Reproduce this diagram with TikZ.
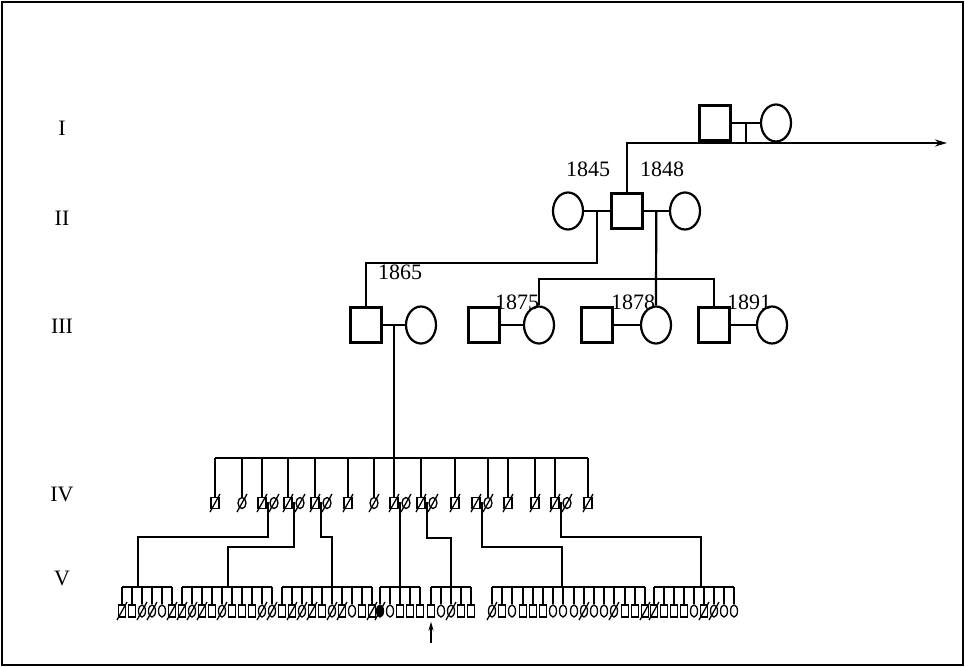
\documentclass[tikz,border=0pt]{standalone}
\usepackage{fontspec}
\setmainfont{Liberation Serif}
\usetikzlibrary{shapes.geometric, arrows.meta}
\newcommand{\dies}[1]{\draw[line width=1.3pt] ([shift={(-5,9)}]#1.center) -- ([shift={(5,-9)}]#1.center);}
\begin{document}
\begin{tikzpicture}[x=1pt, y=-1pt, line width=2.2pt,
  >={Stealth[length=12pt, width=7pt]},
  male/.style={draw, rectangle, minimum width=31pt, minimum height=35pt, inner sep=0pt},
  female/.style={draw, ellipse, minimum width=30pt, minimum height=37pt, inner sep=0pt},
  ksq/.style={draw, rectangle, line width=1.3pt, minimum width=8pt, minimum height=11pt, inner sep=0pt},
  kci/.style={draw, ellipse, line width=1.3pt, minimum width=8pt, minimum height=11pt, inner sep=0pt},
  vsq/.style={draw, rectangle, line width=1.3pt, minimum width=7pt, minimum height=12pt, inner sep=0pt},
  vci/.style={draw, ellipse, line width=1.3pt, minimum width=7pt, minimum height=12pt, inner sep=0pt},
  vaf/.style={vci, fill=black},
  drop/.style={line width=1.6pt},
  lbl/.style={font=\fontsize{22}{25}\selectfont, inner sep=1pt}]
  \useasboundingbox (0,0) rectangle (965,667);
  \draw (2,2) rectangle (963,665);

  % generation labels
  \node[lbl] (gI)   at (62,128) {I};
  \node[lbl] (gII)  at (62,218) {II};
  \node[lbl] (gIII) at (62,326) {III};
  \node[lbl] (gIV)  at (62,494) {IV};
  \node[lbl] (gV)   at (62,578) {V};

  % generation I
  \node[male]   (a1) at (715,123) {};
  \node[female] (a2) at (776,123) {};
  \draw (a1) -- coordinate (mI) (a2);
  \coordinate (cont) at (947,143);

  % generation II
  \node[female] (b1) at (568,211) {};
  \node[male]   (b2) at (627,211) {};
  \node[female] (b3) at (685,211) {};
  \draw (b1) -- coordinate (mL) (b2);
  \draw (b2) -- coordinate (mR) (b3);
  \draw (mI) -- (mI |- cont);
  \draw[->] (b2.north) |- (cont);
  \node[lbl] (y45) at (588,169) {1845};
  \node[lbl] (y48) at (662,169) {1848};

  % generation III
  \node[male]   (c1) at (366,325) {};
  \node[female] (c2) at (421,325) {};
  \node[male]   (c3) at (484,325) {};
  \node[female] (c4) at (539,325) {};
  \node[male]   (c5) at (597,325) {};
  \node[female] (c6) at (656,325) {};
  \node[male]   (c7) at (714,325) {};
  \node[female] (c8) at (772,325) {};
  \draw (c1) -- coordinate (m65) (c2);
  \draw (c3) -- (c4);
  \draw (c5) -- (c6);
  \draw (c7) -- (c8);
  \coordinate (sibIII) at (0,279);
  \draw (mL) -- ++(0,52) -| (c1.north);
  \draw (mR) -- (c6.north);
  \draw (c4.north) |- (c7.north |- sibIII) -- (c7.north);
  \node[lbl] (y65) at (400,272) {1865};
  \node[lbl] (y75) at (517,302) {1875};
  \node[lbl] (y78) at (633,302) {1878};
  \node[lbl] (y91) at (749,302) {1891};

  % generation IV
  \coordinate (sibIV) at (0,458);
  \draw (m65) -- (m65 |- sibIV);
  \foreach \x/\s [count=\i] in {215/ksq, 242/kci, 262/ksq, 288/ksq, 315/ksq,
      348/ksq, 374/kci, 394/ksq, 421/ksq, 455/ksq, 488/kci, 508/ksq, 535/ksq,
      555/ksq, 588/ksq} {
    \node[\s] (k\i) at (\x,503) {};
    \draw (k\i.north) -- (k\i.north |- sibIV);
    \dies{k\i}
  }
  \draw (k1.north |- sibIV) -- (k15.north |- sibIV);
  \foreach \i/\x/\s in {3/274/kci, 4/300/kci, 5/327/kci, 8/406/kci, 9/433/kci,
      11/476/ksq, 14/567/kci} {
    \node[\s] (p\i) at (\x,503) {};
    \draw[drop] (k\i) -- coordinate (m\i) (p\i);
    \dies{p\i}
  }

  % generation V
  \coordinate (sibV) at (0,587);
  \coordinate (jA) at (138,587);
  \coordinate (jB) at (228,587);
  \coordinate (jC) at (332,587);
  \coordinate (jE) at (451,587);
  \coordinate (jF) at (562,587);
  \coordinate (jG) at (701,587);
  \draw (m3) -- ++(0,34) -| (jA);
  \draw (m4) -- ++(0,44) -| (jB);
  \draw (m5) -- ++(0,34) -| (jC);
  \draw (m8) -- (m8 |- sibV);
  \draw (m9) -- ++(0,35) -| (jE);
  \draw (m11) -- ++(0,44) -| (jF);
  \draw (m14) -- ++(0,34) -| (jG);
  \foreach \x/\s/\st [count=\i] in {
      122/vsq/1, 132/vsq/0, 142/vci/1, 152/vci/1, 162/vci/0, 172/vsq/1,
      182/vsq/1, 192/vci/1, 202/vsq/1, 212/vsq/0, 222/vci/1, 232/vsq/0,
      242/vsq/0, 252/vsq/0, 262/vci/1, 272/vci/1,
      282/vsq/0, 292/vsq/1, 302/vci/1, 312/vsq/1, 322/vsq/0, 332/vci/1,
      342/vsq/1, 352/vci/0, 362/vsq/0, 372/vsq/1,
      380/vaf/1, 390/vci/0, 400/vsq/0, 410/vsq/0, 420/vsq/0,
      431/vsq/0, 441/vci/0, 451/vci/1, 461/vsq/0, 471/vsq/0,
      492/vci/1, 502/vsq/0, 512/vci/0, 523/vsq/0, 533/vsq/0, 543/vsq/0,
      553/vci/0, 563/vci/0, 574/vci/0, 584/vci/1, 594/vci/0, 604/vci/0,
      614/vci/1, 625/vsq/0, 635/vsq/0, 645/vsq/1,
      654/vsq/1, 664/vsq/0, 674/vsq/0, 684/vsq/0, 694/vci/0, 704/vsq/1,
      714/vci/1, 724/vci/0, 734/vci/0} {
    \node[\s] (v\i) at (\x,611) {};
    \draw[drop] (v\i.north) -- (v\i.north |- sibV);
    \ifnum\st=1 \dies{v\i}\fi
  }
  \draw (v1.north |- sibV) -- (v6.north |- sibV);
  \draw (v7.north |- sibV) -- (v16.north |- sibV);
  \draw (v17.north |- sibV) -- (v26.north |- sibV);
  \draw (v27.north |- sibV) -- (v31.north |- sibV);
  \draw (v32.north |- sibV) -- (v36.north |- sibV);
  \draw (v37.north |- sibV) -- (v52.north |- sibV);
  \draw (v53.north |- sibV) -- (v61.north |- sibV);

  % proband
  \coordinate (pb) at (431,643);
  \draw[->, line width=1.5pt, >={Stealth[length=9pt, width=5pt]}] (pb) -- ([yshift=-4pt]v32.south);
\end{tikzpicture}
\end{document}
